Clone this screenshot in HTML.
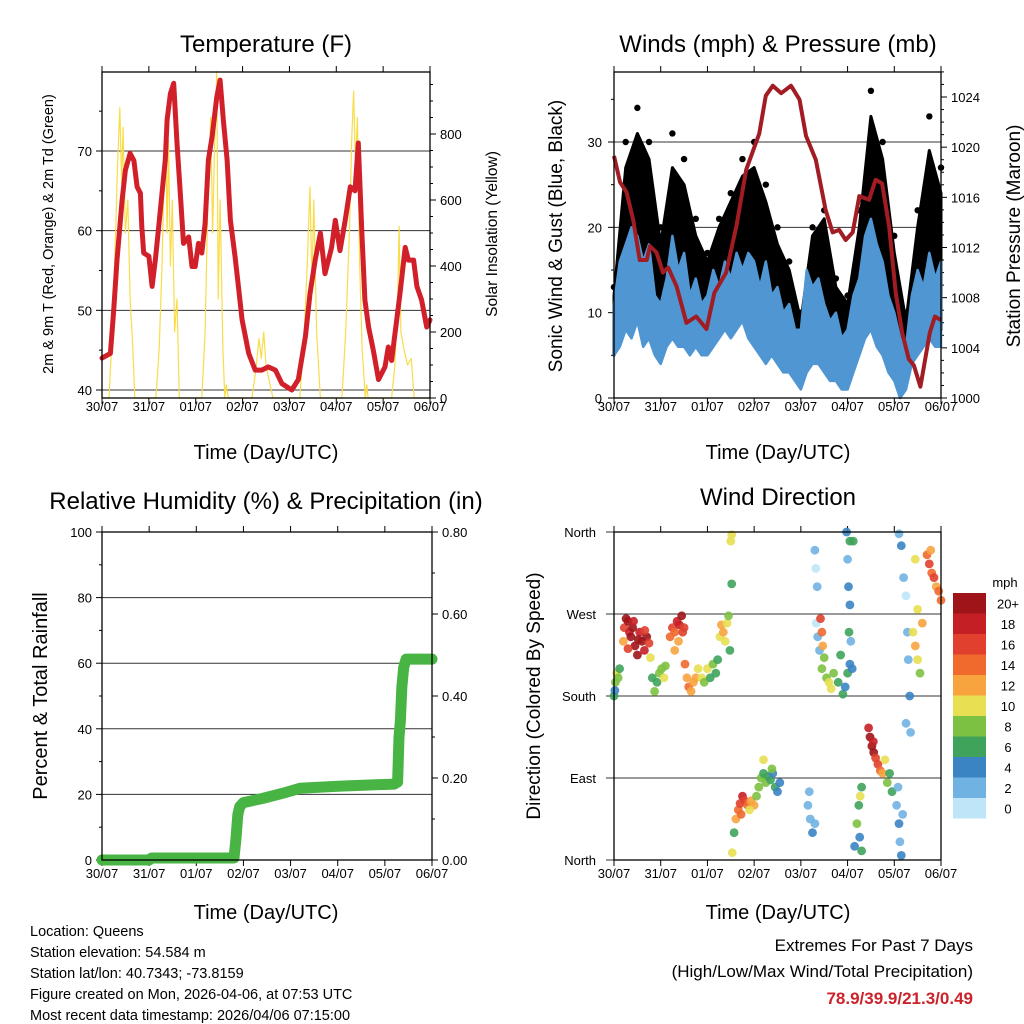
<!DOCTYPE html>
<html><head><meta charset="utf-8"><style>
html,body{margin:0;padding:0;background:#fff;}
svg{display:block;font-family:"Liberation Sans",sans-serif;}
</style></head><body>
<svg id="c" width="1024" height="1024" viewBox="0 0 1024 1024" xmlns="http://www.w3.org/2000/svg"></svg>
<script>
// ---------- DATA ----------
const dayLabels = ["30/07","31/07","01/07","02/07","03/07","04/07","05/07","06/07"];
const tempTimes = [0,0.18,0.25,0.32,0.43,0.5,0.6,0.68,0.75,0.82,0.85,0.89,1.0,1.07,1.14,1.21,1.28,1.35,1.39,1.46,1.53,1.6,1.67,1.74,1.85,1.92,1.99,2.06,2.13,2.2,2.27,2.35,2.45,2.52,2.59,2.67,2.74,2.84,2.91,2.99,3.13,3.27,3.41,3.55,3.7,3.84,4.05,4.19,4.34,4.44,4.55,4.66,4.76,4.9,4.98,5.08,5.19,5.3,5.4,5.47,5.54,5.61,5.69,5.79,5.9,6.04,6.11,6.18,6.29,6.36,6.47,6.54,6.65,6.72,6.82,6.93,7.0];
const tempValues = [44,44.6,50,56.3,63.8,67.6,69.7,68.8,65.5,64.7,60.5,57.2,56.8,53,56.4,60.5,64.7,68.9,73.9,77.2,78.5,71,64.7,58.4,59.2,55.5,55.5,58.4,57.2,60.9,68.9,71.8,76.8,78.9,73.8,68.9,61.3,56.7,53,48.8,44.6,42.5,42.5,42.9,42.5,40.8,40,41.3,46.7,52.1,56.3,59.7,54.6,57.9,61.3,57.5,61.3,65.5,65,71,60.5,51.3,47.9,45,41.3,42.9,45.4,43.7,48.8,52.1,57.9,56.3,56.3,53,51.3,47.9,48.8];
const solarTimes = [0,0.15,0.22,0.28,0.33,0.38,0.42,0.45,0.5,0.55,0.6,0.66,0.7,1.15,1.22,1.28,1.32,1.36,1.39,1.42,1.46,1.5,1.55,1.6,1.65,2.13,2.2,2.26,2.32,2.36,2.4,2.45,2.48,2.52,2.58,2.62,2.65,2.7,3.2,3.28,3.35,3.4,3.45,3.5,3.57,3.65,4.22,4.3,4.38,4.44,4.48,4.52,4.58,4.66,5.12,5.2,5.28,5.33,5.37,5.41,5.45,5.5,5.55,5.62,5.65,5.68,6.18,6.25,6.31,6.34,6.38,6.44,6.52,6.6,6.66,7.0];
const solarValues = [0,0,200,450,700,880,650,820,500,600,300,150,0,0,150,400,650,820,500,780,400,600,200,300,0,0,200,600,850,500,750,990,300,600,150,0,40,0,0,80,180,120,200,100,50,0,0,150,400,640,350,600,200,0,0,200,500,780,930,700,850,400,150,0,40,0,0,100,300,520,200,150,100,120,0,0];
const windTimes = [0,0.125,0.25,0.375,0.5,0.625,0.75,0.875,1,1.125,1.25,1.375,1.5,1.625,1.75,1.875,2,2.125,2.25,2.375,2.5,2.625,2.75,2.875,3,3.125,3.25,3.375,3.5,3.625,3.75,3.875,4,4.125,4.25,4.375,4.5,4.625,4.75,4.875,5,5.125,5.25,5.375,5.5,5.625,5.75,5.875,6,6.125,6.25,6.375,6.5,6.625,6.75,6.875,7];
const windHi = [11,16,18,20,19,16,18,12,11,14,19,15,17,12,14,11,12,15,13,16,14,17,15,17,16,13,16,12,13,10,11,8,8,15,13,14,11,9,10,7,8,12,14,19,21,18,16,12,10,7,6,12,15,13,17,14,16];
const windLo = [5,6,8,7,9,6,7,5,4,6,7,6,6,5,6,5,5,6,7,8,7,8,9,7,6,5,4,5,4,3,3,2,1,3,4,4,3,2,2,1,1,3,5,7,8,6,5,3,2,0,1,4,5,6,7,6,6];
const gustTimes = [0,0.25,0.5,0.75,1,1.25,1.5,1.75,2,2.25,2.5,2.75,3,3.25,3.5,3.75,4,4.25,4.5,4.75,5,5.25,5.5,5.75,6,6.25,6.5,6.75,7];
const gustLo = [5,12,15,12,8,12,12,9,7,9,11,12,11,10,8,6,3,6,7,5,3,8,14,12,5,2,8,10,8];
const gustHi = [12,27,31,28,18,27,25,19,16,20,23,26,27,23,18,15,9,19,21,13,11,20,33,28,17,9,20,29,24];
const gustPeaks = [13,30,34,30,20,31,28,21,17,21,24,28,30,25,20,16,10,20,22,14,12,22,36,30,19,10,22,33,27];
const presTimes = [0,0.13,0.27,0.41,0.55,0.7,0.77,0.91,1.05,1.16,1.34,1.55,1.76,1.98,2.15,2.4,2.62,2.83,3.11,3.25,3.4,3.58,3.79,3.97,4.11,4.32,4.53,4.68,4.82,4.96,5.11,5.25,5.46,5.6,5.74,5.89,6.03,6.17,6.31,6.42,6.56,6.76,6.87,7.0];
const presValues = [1019.3,1017.2,1016.4,1014.2,1011,1011,1012.1,1011.6,1010,1010.4,1008.9,1006,1006.5,1005.5,1008.4,1010,1013.7,1018.2,1021.1,1024.1,1024.9,1024.3,1024.9,1023.8,1020.9,1019,1015,1013.2,1013.4,1012.6,1013.2,1016.1,1015.8,1017.4,1017.1,1013.7,1008.4,1005.2,1003.1,1002.6,1000.9,1005.2,1006.5,1006.2];
const precipTimes = [0,1.0,1.05,2.8,2.84,2.88,2.92,3.0,3.4,3.9,4.2,5.0,6.2,6.27,6.3,6.33,6.36,6.4,6.45,7.0];
const precipValues = [0,0,0.005,0.005,0.05,0.11,0.13,0.14,0.15,0.165,0.175,0.18,0.185,0.19,0.3,0.34,0.42,0.47,0.49,0.49];
const dirTimes = [0,0.03,0.06,0.09,0.12,0.02,0.2,0.22,0.26,0.3,0.33,0.36,0.4,0.45,0.5,0.55,0.6,0.65,0.7,0.75,0.3,0.42,0.52,0.66,0.78,0.82,0.87,0.92,0.97,1.02,1.07,1.1,1.2,1.25,1.3,1.35,1.4,1.45,1.5,1.38,1.3,1.47,1.52,1.56,1.6,1.65,1.7,1.75,1.8,1.88,1.93,2.0,2.06,2.12,2.18,2.22,2.27,2.3,2.34,2.38,2.42,2.45,2.5,2.52,2.52,2.48,2.53,2.57,2.61,2.66,2.7,2.75,2.8,2.86,2.93,3.0,2.72,2.9,3.05,3.1,3.15,3.2,3.25,3.3,3.35,3.4,3.45,3.5,3.55,3.38,3.2,4.15,4.2,4.25,4.18,4.3,4.3,4.32,4.35,4.33,4.36,4.4,4.42,4.45,4.47,4.5,4.45,4.55,4.6,4.65,4.7,4.8,4.9,4.95,5.0,5.05,4.85,4.98,5.0,5.02,5.05,5.07,5.1,5.05,5.03,5.12,5.15,5.2,5.24,5.27,5.3,5.26,5.3,5.45,5.48,5.52,5.56,5.6,5.65,5.7,5.75,5.8,5.55,5.85,5.9,5.95,6.05,6.1,6.12,6.15,6.08,6.18,6.1,6.15,6.2,6.25,6.28,6.3,6.33,6.25,6.35,6.4,6.45,6.5,6.55,6.6,6.5,6.45,6.7,6.75,6.8,6.85,6.9,6.95,7.0,6.78];
const dirValues = [180,195,205,200,210,186,240,255,265,262,250,245,255,235,225,250,240,230,245,238,232,262,242,252,222,200,185,195,205,210,200,213,245,255,250,262,258,268,255,240,230,250,215,200,190,185,195,200,210,200,195,210,200,215,205,220,245,258,250,240,260,268,350,357,303,230,8,30,45,55,62,70,65,60,65,60,50,55,70,80,90,95,85,92,88,95,80,75,85,100,110,60,45,30,75,40,340,320,300,260,245,230,265,250,235,222,210,200,195,188,205,195,182,190,205,215,225,360,330,300,280,240,210,350,250,350,15,40,60,70,80,25,10,145,135,125,118,112,105,98,95,110,130,85,95,75,60,40,20,5,80,50,358,345,310,290,250,220,180,150,140,250,235,220,205,260,275,330,335,325,315,310,300,295,285,340];
const dirSpeeds = [7,8,10,9,6,5,13,17,20,22,18,21,22,20,22,19,22,18,20,17,16,19,20,17,10,7,8,6,9,8,10,9,15,17,14,19,18,20,17,13,12,16,15,13,14,12,13,12,11,10,9,11,7,8,6,7,10,12,13,11,10,9,10,11,7,6,10,7,12,14,16,18,16,14,12,13,15,11,9,8,9,7,8,7,6,5,6,4,5,9,10,3,2,4,2,3,2,1,2,1,3,2,16,14,12,9,8,9,10,11,8,7,6,5,7,5,6,4,3,4,4,3,4,6,6,7,4,8,6,10,7,5,6,18,20,21,20,17,16,15,13,10,19,8,7,6,3,4,3,4,2,3,3,4,2,1,2,3,4,2,3,11,12,10,9,13,11,10,15,17,14,16,13,15,14,12];
const cbLabels = ["20+","18","16","14","12","10","8","6","4","2","0"];
const cbColors = ["#9e1419","#c51f26","#e0402d","#f0692d","#f7a43f","#e8df52","#7dc142","#3fa35c","#3b84c4","#70b2e2","#bfe5f8"];

// ---------- HELPERS ----------
const NS="http://www.w3.org/2000/svg";
const svg=document.getElementById('c');
function el(tag,attrs,parent){const e=document.createElementNS(NS,tag);for(const k in attrs)e.setAttribute(k,attrs[k]);(parent||svg).appendChild(e);return e;}
function txt(s,attrs,parent){const e=el('text',attrs,parent);e.textContent=s;return e;}
function lin(d0,d1,r0,r1){return v=>r0+(v-d0)*(r1-r0)/(d1-d0);}
function frame(L,T,R,B,name){
  const g=el('g',{});
  
  
  return g;
}
function border(g,L,T,R,B){el('rect',{x:L,y:T,width:R-L,height:B-T,fill:'none',stroke:'#000','stroke-width':1.3},g);}
function xAxis(g,sx,T,B,labY){
  dayLabels.forEach((l,i)=>{
    const x=sx(i);
    el('line',{x1:x,y1:B,x2:x,y2:B+6,stroke:'#000','stroke-width':1},g);
    el('line',{x1:x,y1:T,x2:x,y2:T-6,stroke:'#000','stroke-width':1},g);
    const t=txt(l,{x:x,y:labY,'font-size':13,'text-anchor':'middle'},g);
    
    
  });
}
function pathD(xs,ys,sx,sy){return xs.map((t,i)=>(i?'L':'M')+sx(t).toFixed(1)+','+sy(ys[i]).toFixed(1)).join('');}

// ---------- PANEL 1: TEMPERATURE ----------
(function(){
  const L=102,T=72,R=430,B=398;
  const sx=lin(0,7,L,R), sy=lin(40,70,390,151), ss=lin(0,800,398,134);
  const g=frame(L,T,R,B,'temperature-panel');
  [40,50,60,70].forEach(v=>{el('line',{x1:L,y1:sy(v),x2:R,y2:sy(v),stroke:'#333','stroke-width':1},g);
    el('line',{x1:L,y1:sy(v),x2:L-6,y2:sy(v),stroke:'#000'},g);
    const t=txt(String(v),{x:L-10,y:sy(v)+5,'font-size':13,'text-anchor':'end'},g);
    });
  for(let v=45;v<80;v+=10) el('line',{x1:L,y1:sy(v),x2:L-3,y2:sy(v),stroke:'#000'},g);
  for(let v=0;v<=950;v+=50){el('line',{x1:R,y1:ss(v),x2:R+(v%200==0?6:3),y2:ss(v),stroke:'#000'},g);}
  [0,200,400,600,800].forEach(v=>{const t=txt(String(v),{x:R+10,y:ss(v)+5,'font-size':13},g);
    });
  xAxis(g,sx,T,B,411);
  const s=el('path',{d:pathD(solarTimes,solarValues,sx,ss),fill:'none',stroke:'#f8dc48','stroke-width':1.2,'stroke-linejoin':'round'},g);
  
  const p=el('path',{d:pathD(tempTimes,tempValues,sx,sy),fill:'none',stroke:'#d2202a','stroke-width':5,'stroke-linejoin':'round','stroke-linecap':'round'},g);
  
  border(g,L,T,R,B);
  let t=txt('Temperature (F)',{x:266,y:52,'font-size':24,'text-anchor':'middle'});
  t=txt('Time (Day/UTC)',{x:266,y:459,'font-size':20,'text-anchor':'middle'});
  t=txt('2m & 9m T (Red, Orange) & 2m Td (Green)',{x:0,y:0,'font-size':14.5,'text-anchor':'middle',transform:'translate(53,234) rotate(-90)'});
  t=txt('Solar Insolation (Yellow)',{x:0,y:0,'font-size':15.5,'text-anchor':'middle',transform:'translate(497,234) rotate(-90)'});
})();

// ---------- PANEL 2: WINDS ----------
(function(){
  const L=614,T=72,R=941,B=398;
  const sx=lin(0,7,L,R), sy=lin(0,30,398,142), sp=lin(1000,1024,398,97);
  const g=frame(L,T,R,B,'winds-panel');
  [10,20,30].forEach(v=>el('line',{x1:L,y1:sy(v),x2:R,y2:sy(v),stroke:'#333'},g));
  for(let v=0;v<=35;v+=5){el('line',{x1:L,y1:sy(v),x2:L-(v%10==0?6:3),y2:sy(v),stroke:'#000'},g);}
  [0,10,20,30].forEach(v=>{const t=txt(String(v),{x:L-12,y:sy(v)+5,'font-size':13,'text-anchor':'end'},g);});
  for(let v=1000;v<=1026;v++){el('line',{x1:R,y1:sp(v),x2:R+(v%4==0?6:3),y2:sp(v),stroke:'#000'},g);}
  [1000,1004,1008,1012,1016,1020,1024].forEach(v=>{const t=txt(String(v),{x:R+10,y:sp(v)+5,'font-size':13},g);});
  xAxis(g,sx,T,B,411);
  const band=(ts,lo,hi)=>pathD(ts,hi,sx,sy)+pathD(ts.slice().reverse(),lo.slice().reverse(),sx,sy).replace('M','L')+'Z';
  let e=el('path',{d:band(gustTimes,gustLo,gustHi),fill:'#000',stroke:'#000','stroke-width':3,'stroke-linejoin':'round'},g);
  
  gustTimes.forEach((t,i)=>{const c=el('circle',{cx:sx(t),cy:sy(gustPeaks[i]),r:3.2,fill:'#000'},g);
    });
  e=el('path',{d:band(windTimes,windLo,windHi),fill:'#4f96d2',stroke:'#4f96d2','stroke-width':2.5,'stroke-linejoin':'round'},g);
  
  e=el('path',{d:pathD(presTimes,presValues,sx,sp),fill:'none',stroke:'#a11d23','stroke-width':4,'stroke-linejoin':'round'},g);
  
  border(g,L,T,R,B);
  let t=txt('Winds (mph) & Pressure (mb)',{x:778,y:52,'font-size':24,'text-anchor':'middle'});
  t=txt('Time (Day/UTC)',{x:778,y:459,'font-size':20,'text-anchor':'middle'});
  t=txt('Sonic Wind & Gust (Blue, Black)',{x:0,y:0,'font-size':19,'text-anchor':'middle',transform:'translate(562,236) rotate(-90)'});
  t=txt('Station Pressure (Maroon)',{x:0,y:0,'font-size':19,'text-anchor':'middle',transform:'translate(1020,236) rotate(-90)'});
})();

// ---------- PANEL 3: RH & PRECIP ----------
(function(){
  const L=102,T=532,R=432,B=860;
  const sx=lin(0,7,L,R), sy=lin(0,100,B,T), sr=lin(0,0.8,B,T);
  const g=frame(L,T,R,B,'humidity-precip-panel');
  [20,40,60,80].forEach(v=>el('line',{x1:L,y1:sy(v),x2:R,y2:sy(v),stroke:'#333'},g));
  for(let v=0;v<=100;v+=10) el('line',{x1:L,y1:sy(v),x2:L-(v%20==0?6:3),y2:sy(v),stroke:'#000'},g);
  [0,20,40,60,80,100].forEach(v=>{const t=txt(String(v),{x:L-10,y:sy(v)+5,'font-size':13,'text-anchor':'end'},g);});
  for(let v=0;v<=0.8001;v+=0.1) el('line',{x1:R,y1:sr(v),x2:R+(Math.round(v*10)%2==0?6:3),y2:sr(v),stroke:'#000'},g);
  [0,0.2,0.4,0.6,0.8].forEach(v=>{const t=txt(v.toFixed(2),{x:R+10,y:sr(v)+5,'font-size':13},g);});
  xAxis(g,sx,T,B,878);
  const e=el('path',{d:pathD(precipTimes,precipValues,sx,sr),fill:'none',stroke:'#48b444','stroke-width':11,'stroke-linejoin':'round','stroke-linecap':'round'},g);
  
  border(g,L,T,R,B);
  let t=txt('Relative Humidity (%) & Precipitation (in)',{x:266,y:509,'font-size':24,'text-anchor':'middle'});
  t=txt('Time (Day/UTC)',{x:266,y:919,'font-size':20,'text-anchor':'middle'});
  t=txt('Percent & Total Rainfall',{x:0,y:0,'font-size':20,'text-anchor':'middle',transform:'translate(47,696) rotate(-90)'});
})();

// ---------- PANEL 4: WIND DIRECTION ----------
(function(){
  const L=614,T=532,R=941,B=860;
  const sx=lin(0,7,L,R), sy=lin(0,360,B,T);
  const g=frame(L,T,R,B,'wind-direction-panel');
  const dl=["North","East","South","West","North"];
  [0,90,180,270,360].forEach((v,i)=>{el('line',{x1:L-8,y1:sy(v),x2:R,y2:sy(v),stroke:'#333'},g);
    const t=txt(dl[i],{x:L-18,y:sy(v)+5,'font-size':13,'text-anchor':'end'},g);});
  xAxis(g,sx,T,B,878);
  function col(s){const k=Math.min(10,Math.floor(s/2));return cbColors[10-k];}
  dirTimes.forEach((t,i)=>{const c=el('circle',{cx:sx(t).toFixed(1),cy:sy(dirValues[i]).toFixed(1),r:4.4,fill:col(dirSpeeds[i]),'fill-opacity':0.9},g);
    });
  border(g,L,T,R,B);
  const cb=el('g',{});
  const cy0=593,h=20.5;
  cbColors.forEach((c,i)=>{el('rect',{x:953,y:cy0+i*h,width:33,height:h,fill:c},cb);
    const t=txt(cbLabels[i],{x:1008,y:cy0+i*h+h/2+5,'font-size':13,'text-anchor':'middle'},cb);});
  let t=txt('mph',{x:1005,y:587,'font-size':13,'text-anchor':'middle'},cb);
  t=txt('Wind Direction',{x:778,y:505,'font-size':24,'text-anchor':'middle'});
  t=txt('Time (Day/UTC)',{x:778,y:919,'font-size':20,'text-anchor':'middle'});
  t=txt('Direction (Colored By Speed)',{x:0,y:0,'font-size':19,'text-anchor':'middle',transform:'translate(540,696) rotate(-90)'});
})();

// ---------- FOOTER ----------
(function(){
  const info=["Location: Queens","Station elevation: 54.584 m","Station lat/lon: 40.7343; -73.8159","Figure created on Mon, 2026-04-06, at 07:53 UTC","Most recent data timestamp: 2026/04/06 07:15:00"];
  info.forEach((s,i)=>{const t=txt(s,{x:30,y:936+i*21,'font-size':14.5});});
  let t=txt('Extremes For Past 7 Days',{x:973,y:951,'font-size':17,'text-anchor':'end'});
  t=txt('(High/Low/Max Wind/Total Precipitation)',{x:973,y:977,'font-size':17,'text-anchor':'end'});
  t=txt('78.9/39.9/21.3/0.49',{x:973,y:1004,'font-size':17,'font-weight':'bold',fill:'#cc2229','text-anchor':'end'});
})();
</script>
</body></html>
